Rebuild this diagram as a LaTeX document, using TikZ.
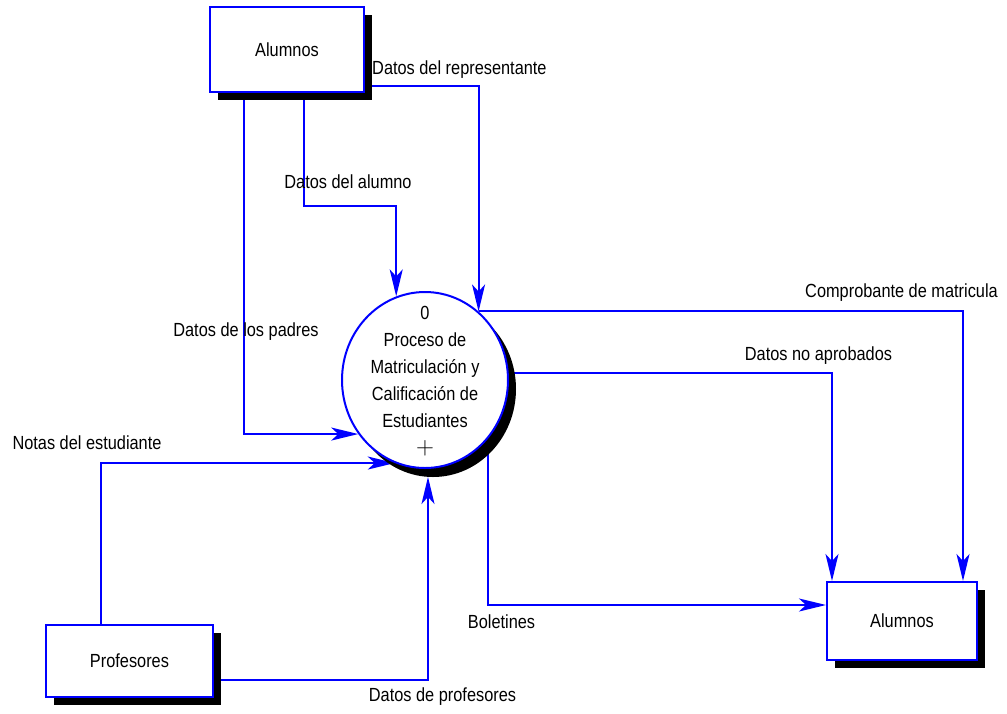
\documentclass[tikz,border=0pt]{standalone}
\usepackage{fontspec}
\setmainfont{Liberation Sans}[FakeStretch=0.86]
\usetikzlibrary{shapes.geometric,arrows.meta,calc,backgrounds}

\begin{document}
\begin{tikzpicture}[x=1pt,y=-1pt,
  every node/.style={font=\fontsize{19}{27}\selectfont},
  shadowed/.style={preaction={fill=black,transform canvas={xshift=8pt,yshift=-8pt}}},
  entity/.style={rectangle,draw=blue,line width=2pt,fill=white,inner sep=0pt,shadowed},
  process/.style={ellipse,draw=blue,line width=2pt,fill=white,inner sep=0pt,
    minimum width=166pt,minimum height=176pt,
    preaction={fill=black,transform canvas={xshift=8pt,yshift=-9pt}}},
  flow/.style={draw=blue,line width=2pt,
    -{Stealth[length=27pt,width=13pt,inset=7pt]}},
  lbl/.style={inner sep=0pt}]

\useasboundingbox (0,0) rectangle (1007,713);

% external entities and the process
\node[entity,minimum width=154pt,minimum height=85pt] (alumA) at (287,49.5) {Alumnos};
\node[process] (proc) at (425,380) {};
\node[lbl,align=center] (proctext) at (425,381)
  {0\\Proceso de\\Matriculación y\\Calificación de\\Estudiantes\\{\fontsize{24}{27}\selectfont$+$}};
\node[entity,minimum width=150pt,minimum height=78pt] (alumB) at (902,621) {Alumnos};
\node[entity,minimum width=167pt,minimum height=72pt] (prof) at (129.5,661) {Profesores};

% data flows
\begin{scope}[on background layer]
  \fill[white] (0,0) rectangle (1007,713);
  \draw[flow] ([xshift=35pt]alumA.south west) |- (proc.219);
  \draw[flow] ([xshift=95pt]alumA.south west) -- ++(0,113) -| (proc.109);
  \draw[flow] ([yshift=7pt]alumA.south east) -| (proc.52);
  \draw[flow] (proc.52) -| ([xshift=-15pt]alumB.north east);
  \draw[flow] (proc.5) -| ([xshift=6pt]alumB.north west);
  \draw[flow] (proc.317) |- ([yshift=16pt]alumB.west);
  \draw[flow] ([xshift=56pt]prof.north west) |- (proc.250);
  \draw[flow] ([yshift=-19pt]prof.east) -| ([shift={(3pt,-8pt)}]proc.south);
\end{scope}

% flow labels
\node[lbl,anchor=west] (lrep) at (372,70) {Datos del representante};
\node[lbl] (lalu) at (348,182) {Datos del alumno};
\node[lbl] (lpad) at (246,332) {Datos de los padres};
\node[lbl] (lnot) at (87,443) {Notas del estudiante};
\node[lbl] (lcom) at (901.5,293) {Comprobante de matricula};
\node[lbl] (lnoa) at (818.5,356) {Datos no aprobados};
\node[lbl] (lbol) at (501.5,622) {Boletines};
\node[lbl] (lprof) at (442.5,697) {Datos de profesores};
\end{tikzpicture}
\end{document}
